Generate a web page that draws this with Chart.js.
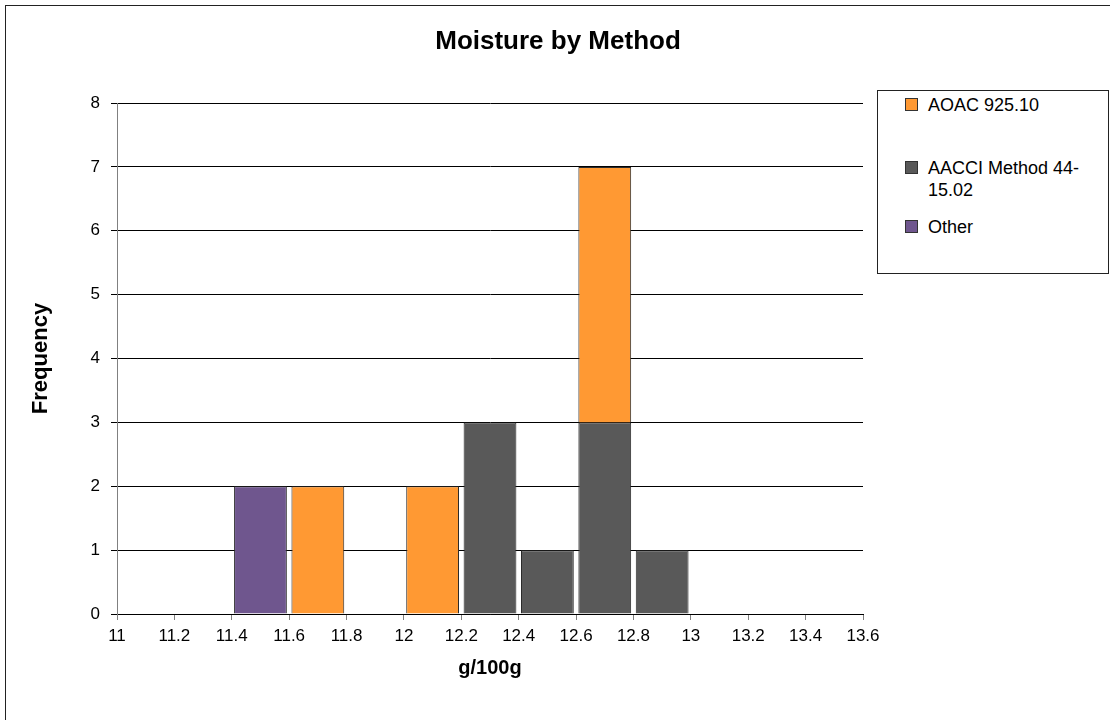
<!DOCTYPE html>
<html>
<head>
<meta charset="utf-8">
<title>Moisture by Method</title>
<script src="https://cdn.jsdelivr.net/npm/chart.js@4.4.1/dist/chart.umd.min.js"></script>
<style>
  html, body { margin: 0; padding: 0; background: #fff; overflow: hidden; }
  #wrap { position: relative; width: 1110px; height: 720px; overflow: hidden; }
  #chart { position: absolute; left: 5px; top: 5px; }
  #frame {
    position: absolute; left: 5px; top: 5px; width: 1106px; height: 717px;
    border: 1px solid #222; pointer-events: none;
  }
  #legend {
    position: absolute; left: 877px; top: 90px; width: 232px; height: 184px;
    box-sizing: border-box; border: 1px solid #222; background: #fff;
    font-family: "Liberation Sans", Arial, sans-serif; font-size: 18px; color: #000;
  }
  .item { position: relative; padding-left: 50px; width: 160px; line-height: 22px; }
  .swatch {
    position: absolute; left: 27px; top: 4px; width: 13px; height: 13px;
    box-sizing: border-box; border: 1px solid #333;
  }
</style>
</head>
<body>
<div id="wrap">
  <canvas id="chart" width="1106" height="717"></canvas>
  <div id="legend"></div>
  <div id="frame"></div>
</div>
<script>
const chartTitle = 'Moisture by Method';
const xTitle = 'g/100g';
const yTitle = 'Frequency';

// Histogram bins (centre of each 0.2 g/100g class)
const binCenters = [11.5, 11.7, 11.9, 12.1, 12.3, 12.5, 12.7, 12.9];

// Frequencies per method in each bin
const seriesNames = ['AOAC 925.10', 'AACCI Method 44-15.02', 'Other'];
const aoac  = [0, 2, 0, 2, 0, 0, 4, 0];
const aacci = [0, 0, 0, 0, 3, 1, 3, 1];
const other = [2, 0, 0, 0, 0, 0, 0, 0];

const seriesColors = ['#FF9933', '#595959', '#6F568E'];
// AACCI sits at the bottom of each stack, AOAC above it
const stackOrder = [1, 0, 2];

// Axis ranges / ticks
const xMin = 11, xMax = 13.6, xStep = 0.2;
const yMin = 0, yMax = 8, yStep = 1;

const FONT = '"Liberation Sans", Arial, sans-serif';

function toPoints(values) {
  const pts = [];
  values.forEach((v, i) => { if (v > 0) pts.push({ x: binCenters[i], y: v }); });
  return pts;
}

const seriesValues = [aoac, aacci, other];
const datasets = seriesNames.map((name, i) => ({
  label: name,
  data: toPoints(seriesValues[i]),
  backgroundColor: seriesColors[i],
  borderColor: '#2b2b2b',
  borderWidth: 1,
  order: stackOrder[i],
  barPercentage: 0.92,
  categoryPercentage: 1.0
}));

// Title centred across the whole chart object
const centredTitle = {
  id: 'centredTitle',
  afterDraw(chart, args, opts) {
    const ctx = chart.ctx;
    ctx.save();
    ctx.font = 'bold ' + opts.size + 'px ' + FONT;
    ctx.fillStyle = '#000';
    ctx.textAlign = 'center';
    ctx.textBaseline = 'middle';
    ctx.fillText(opts.text, chart.width / 2, opts.y);
    ctx.restore();
  }
};

const chart = new Chart(document.getElementById('chart'), {
  type: 'bar',
  data: { datasets },
  plugins: [centredTitle],
  options: {
    responsive: false,
    animation: false,
    events: [],
    layout: { padding: { left: 0, right: 248, top: 98, bottom: 0 } },
    plugins: {
      legend: { display: false },
      tooltip: { enabled: false },
      title: { display: false },
      centredTitle: { text: chartTitle, size: 26, y: 37 }
    },
    scales: {
      x: {
        type: 'linear',
        stacked: true,
        offset: false,
        min: xMin,
        max: xMax,
        afterFit: s => { s.height = 108; },
        grid: {
          offset: false,
          drawOnChartArea: false,
          drawTicks: true,
          tickLength: 6,
          color: '#808080'
        },
        border: { display: true, color: '#000' },
        ticks: {
          stepSize: xStep,
          autoSkip: false,
          maxRotation: 0,
          padding: 6.5,
          color: '#000',
          font: { family: FONT, size: 17 },
          callback: v => String(+Number(v).toFixed(1))
        },
        title: {
          display: true,
          text: xTitle,
          color: '#000',
          font: { family: FONT, size: 20, weight: 'bold' },
          padding: { top: 0, bottom: 42 }
        }
      },
      y: {
        stacked: true,
        min: yMin,
        max: yMax,
        afterFit: s => { s.width = 112; },
        grid: { color: '#000', tickLength: 6, lineWidth: 1 },
        border: { display: true, color: '#808080' },
        ticks: {
          stepSize: yStep,
          padding: 11,
          color: '#000',
          font: { family: FONT, size: 17 }
        },
        title: {
          display: true,
          text: yTitle,
          color: '#000',
          font: { family: FONT, size: 22, weight: 'bold' },
          padding: { top: 22.3, bottom: 0 }
        }
      }
    }
  }
});

// Legend box built from the chart's datasets
const legendEl = document.getElementById('legend');
const itemGaps = [3, 41, 15];
chart.data.datasets.forEach((ds, i) => {
  const item = document.createElement('div');
  item.className = 'item';
  item.style.marginTop = itemGaps[i] + 'px';
  const sw = document.createElement('span');
  sw.className = 'swatch';
  sw.style.background = ds.backgroundColor;
  item.appendChild(sw);
  item.appendChild(document.createTextNode(ds.label));
  legendEl.appendChild(item);
});
</script>
</body>
</html>
